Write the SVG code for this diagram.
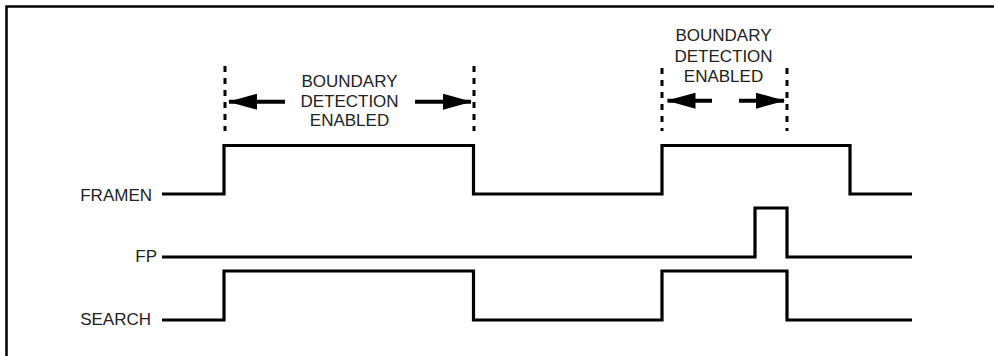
<svg xmlns="http://www.w3.org/2000/svg" width="994" height="356" viewBox="0 0 994 356">
<defs>
<style>
.sig{fill:none;stroke:#000;stroke-width:3.2;stroke-linejoin:miter;stroke-linecap:butt}
.dash{stroke:#000;stroke-width:3;stroke-dasharray:6,6}
.lbl{font-family:"Liberation Sans",Arial,sans-serif;font-size:17px;fill:#222}
.arr{stroke:#000;stroke-width:4}
</style>
<marker id="ah" viewBox="0 0 29 16" refX="28" refY="8" markerWidth="29" markerHeight="16" markerUnits="userSpaceOnUse" orient="auto">
<path d="M0,0 L29,8 L0,16 Z" fill="#000"/>
</marker>
</defs>
<rect x="0" y="0" width="994" height="356" fill="#fff"/>
<rect id="frame" x="6.5" y="6.5" width="1100" height="500" fill="none" stroke="#000" stroke-width="2.5"/>
<g id="framen">
<text class="lbl" x="152" y="200.5" text-anchor="end">FRAMEN</text>
</g>
<g id="fp">
<text class="lbl" x="157" y="262" text-anchor="end">FP</text>
</g>
<g id="search">
<text class="lbl" x="151" y="325" text-anchor="end">SEARCH</text>
</g>
<g id="label-left">
<text class="lbl" x="349.5" y="86.5" text-anchor="middle">BOUNDARY</text>
<text class="lbl" x="349.5" y="106.5" text-anchor="middle">DETECTION</text>
<text class="lbl" x="349.5" y="126" text-anchor="middle">ENABLED</text>
</g>
<g id="label-right">
<text class="lbl" x="723.5" y="40.5" text-anchor="middle">BOUNDARY</text>
<text class="lbl" x="723.5" y="61.5" text-anchor="middle">DETECTION</text>
<text class="lbl" x="723.5" y="82" text-anchor="middle">ENABLED</text>
</g>
<g id="connectors">
<path class="sig" d="M162,194 H224 V145.5 H473.5 V194 H662 V145.5 H850 V194 H912"/>
<path class="sig" d="M162,257 H755 V208 H787 V257 H912"/>
<path class="sig" d="M162,320 H224 V271 H473.5 V320 H662 V271 H787 V320 H912"/>
<line class="dash" x1="225" y1="66" x2="225" y2="131"/>
<line class="dash" x1="474" y1="66" x2="474" y2="131"/>
<line class="dash" x1="662" y1="68" x2="662" y2="131"/>
<line class="dash" x1="787" y1="68" x2="787" y2="131"/>
<line class="arr" x1="285" y1="101.7" x2="229" y2="101.7" marker-end="url(#ah)"/>
<line class="arr" x1="415" y1="101.7" x2="471" y2="101.7" marker-end="url(#ah)"/>
<line class="arr" x1="712" y1="100.7" x2="667.5" y2="100.7" marker-end="url(#ah)"/>
<line class="arr" x1="739" y1="100.7" x2="784" y2="100.7" marker-end="url(#ah)"/>
</g>
</svg>
